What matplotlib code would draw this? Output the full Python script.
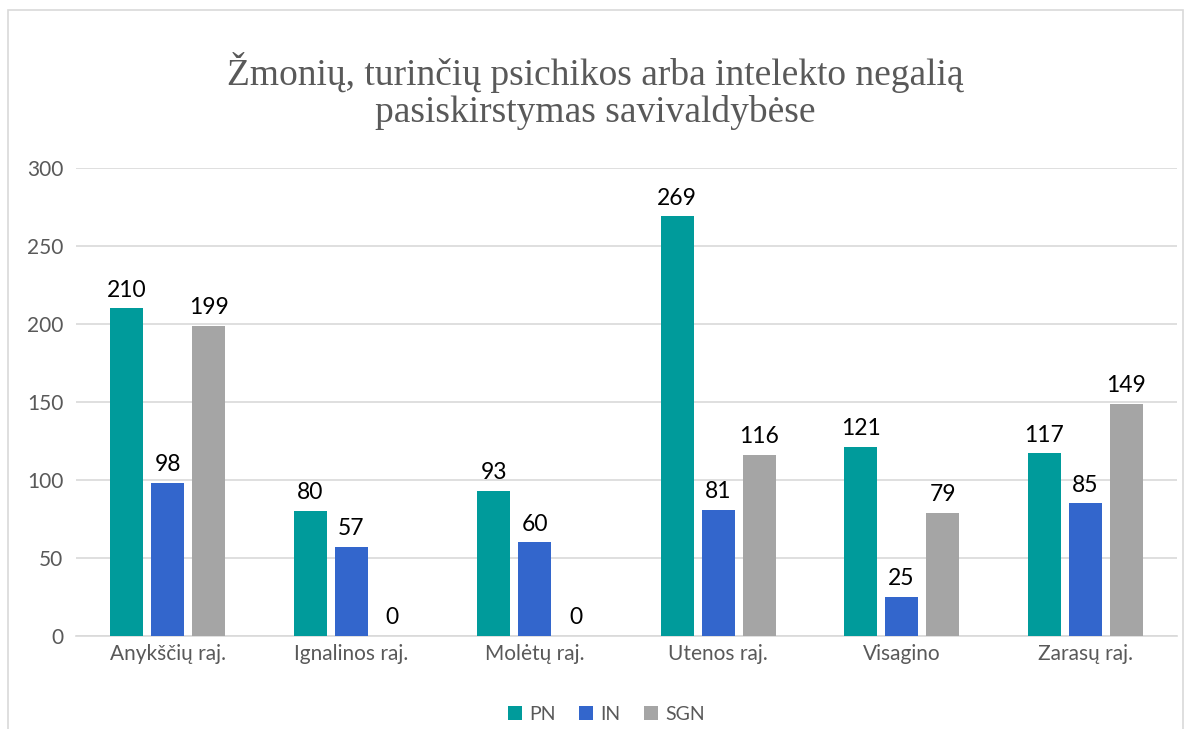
import matplotlib.pyplot as plt
import numpy as np
from matplotlib.patches import Rectangle

# data
categories = ["Anykščių raj.", "Ignalinos raj.", "Molėtų raj.",
              "Utenos raj.", "Visagino", "Zarasų raj."]
series_names = ["PN", "IN", "SGN"]
pn = [210, 80, 93, 269, 121, 117]
in_ = [98, 57, 60, 81, 25, 85]
sgn = [199, 0, 0, 116, 79, 149]
colors = ["#009B9B", "#3366CC", "#A5A5A5"]

plt.rcParams['font.family'] = ['Lato', 'DejaVu Sans']

fig = plt.figure(figsize=(11.9, 7.29), dpi=100)
ax = fig.add_axes([0.0639, 0.1276, 0.925, 0.642])

# chart frame
fig.patches.append(Rectangle((8 / 1190, -0.05), 1175 / 1190, 1.05 - 10 / 729,
                             transform=fig.transFigure, fill=False,
                             edgecolor="#D9D9D9", linewidth=1.2))

x = np.arange(len(categories))
width = 0.18
step = 0.2235
for i, (vals, name, col) in enumerate(zip([pn, in_, sgn], series_names, colors)):
    pos = x + (i - 1) * step
    ax.bar(pos, vals, width, color=col, label=name, zorder=3)
    for p, v in zip(pos, vals):
        ax.text(p, v + 5, str(v), ha="center", va="bottom",
                fontsize=16.5, color="black")

ax.set_xlim(-0.5, len(categories) - 0.5)
ax.set_ylim(0, 300)
ax.set_yticks(range(0, 301, 50))
ax.grid(axis="y", color="#D9D9D9", linewidth=1.2, zorder=0)
for s in ["top", "right", "left"]:
    ax.spines[s].set_visible(False)
ax.spines["bottom"].set_color("#D9D9D9")
ax.spines["bottom"].set_linewidth(1.2)
ax.tick_params(axis="both", length=0, labelsize=15, colors="#595959", pad=9)
ax.tick_params(axis="x", pad=6)
ax.set_xticks(x)
ax.set_xticklabels(categories)

fig.text(0.5, 0.929, "Žmonių, turinčių psichikos arba intelekto negalią\npasiskirstymas savivaldybėse",
         ha="center", va="top", fontsize=27, color="#595959",
         family="Liberation Serif", linespacing=1.1)

ax.legend(loc="center", bbox_to_anchor=(0.482, -0.167), ncol=3,
          frameon=False, fontsize=14, handlelength=0.7, handleheight=0.7,
          handletextpad=0.4, columnspacing=1.2, labelcolor="#595959")

fig.savefig("out.png", dpi=100)
